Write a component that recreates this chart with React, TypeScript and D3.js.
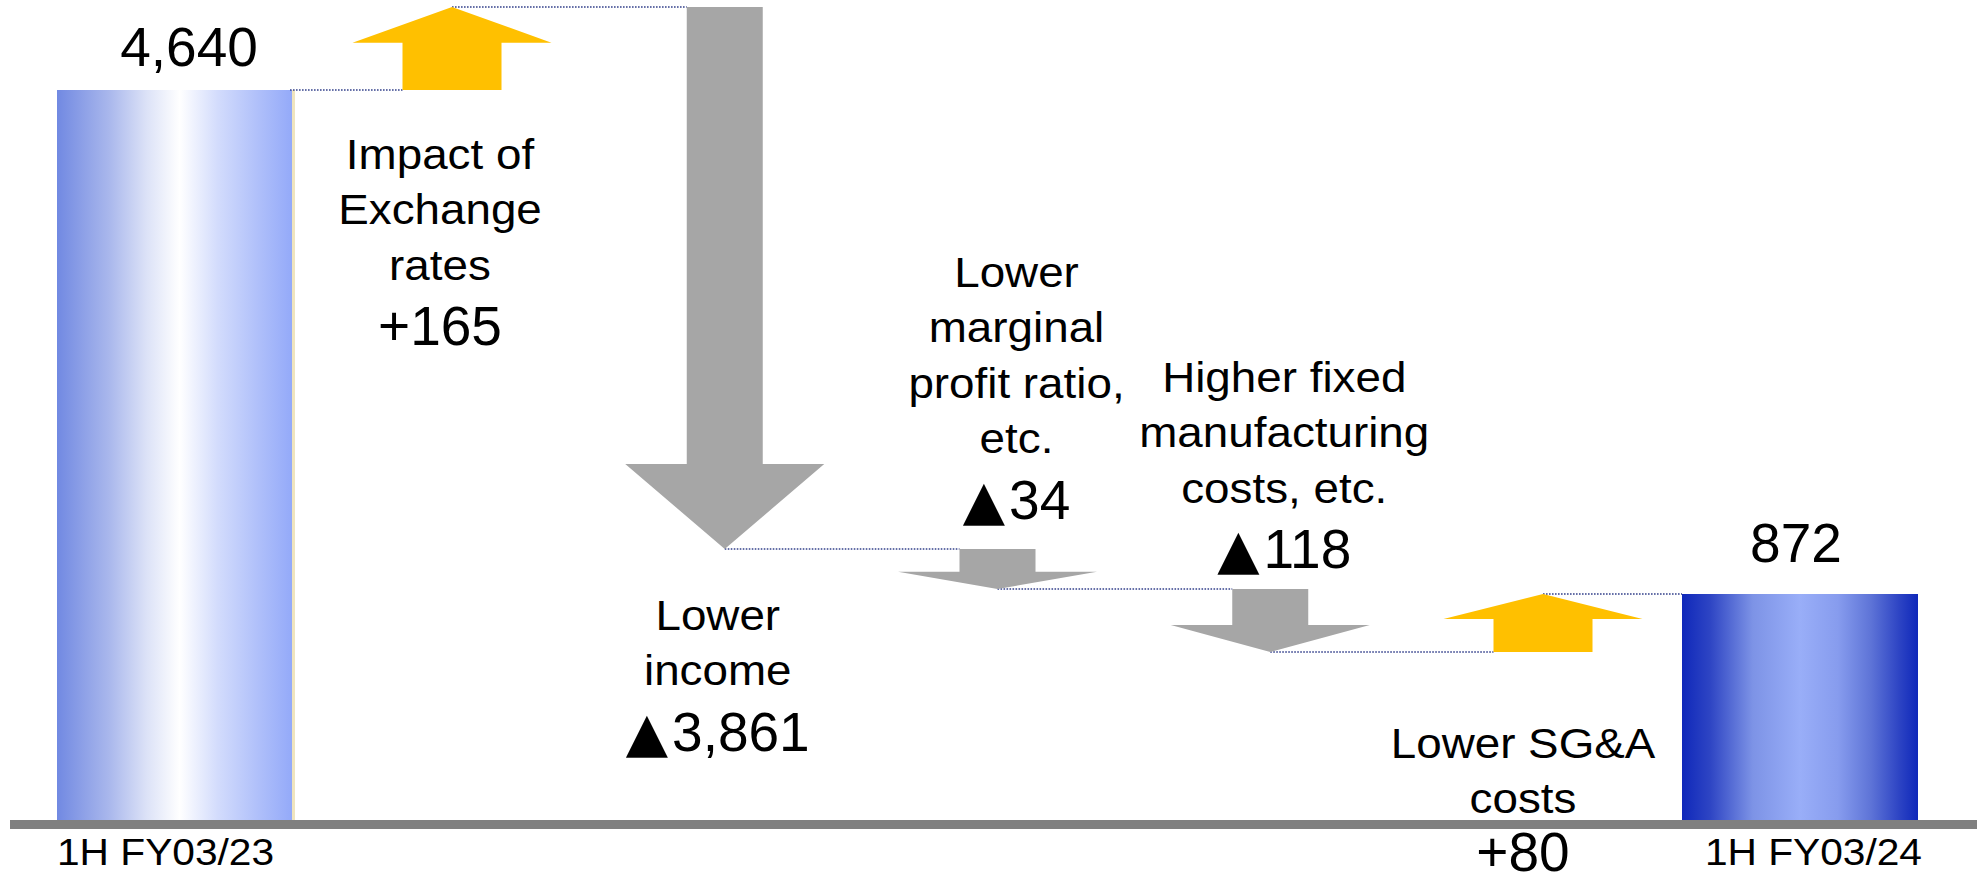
import React from "react";
import * as d3 from "d3";

// ---- Data -------------------------------------------------------------
const startLabel = "1H FY03/23";
const endLabel = "1H FY03/24";
const startValue = 4640;
const endValue = 872;

const stepKeys = ["fx", "income", "margin", "fixed", "sga"];
const stepDeltas = [165, -3861, -34, -118, 80];
const stepLabels = [
  ["Impact of", "Exchange", "rates"],
  ["Lower", "income"],
  ["Lower", "marginal", "profit ratio,", "etc."],
  ["Higher fixed", "manufacturing", "costs, etc."],
  ["Lower SG&A", "costs"],
];

// ---- Layout -----------------------------------------------------------
const W = 1977;
const H = 883;
const BASE_Y = 820;
const BAR_W = 236;
const HEAD_W = 199;
const SHAFT_UP = 99;
const SHAFT_DOWN = 76;
const FONT = "'Liberation Sans', Arial, Helvetica, sans-serif";
const UP_COLOR = "#FFC000";
const DOWN_COLOR = "#A6A6A6";
const LINK_COLOR = "#34418C";

// The vertical axis is schematic: a piecewise-linear scale that opens up
// the narrow band where the small steps happen and squeezes the big drop.
const Y_STOPS = [BASE_Y, 652, 594, 589, 549, 90, 7];
// Caption blocks: first-line baseline and horizontal nudge from the arrow.
const LABEL_TOP = [169, 630, 287, 392, 758];
const LABEL_DX = [-12, -7, 19, 14, -20];
const LINE_H = 55.5;

const fmt = d3.format(",");

function DeltaValue({ v, x, y }: { v: number; x: number; y: number }) {
  const digits = fmt(Math.abs(v));
  return (
    <text x={x} y={y} fontSize={55} textAnchor="middle" fill="#000">
      {v >= 0 ? (
        `+${digits}`
      ) : (
        <>
          <tspan fontFamily="'DejaVu Sans', sans-serif">▲</tspan>
          <tspan dx={4}>{digits}</tspan>
        </>
      )}
    </text>
  );
}

export default function App() {
  const xTotals = d3.scalePoint<string>().domain(["start", "end"]).range([175, 1800]);
  const xSteps = d3.scalePoint<string>().domain(stepKeys).range([452, 1543]);

  // running totals before / after each step
  const levels: number[] = [startValue];
  stepDeltas.forEach((d) => levels.push(levels[levels.length - 1] + d));

  const knots = Array.from(new Set([0, ...levels, endValue])).sort((a, b) => a - b);
  const y = d3.scaleLinear().domain(knots).range(Y_STOPS);

  const line = d3.line<[number, number]>();

  const arrows = stepKeys.map((k, i) => {
    const from = levels[i];
    const to = levels[i + 1];
    const cx = xSteps(k) as number;
    const y0 = y(from);
    const y1 = y(to);
    const up = to > from;
    const dir = up ? -1 : 1;
    const len = Math.abs(y1 - y0);
    const head = Math.min(len * 0.43, 85);
    const sw = up ? SHAFT_UP : SHAFT_DOWN;
    const yb = y1 - dir * head;
    const pts: [number, number][] = [
      [cx - sw / 2, y0],
      [cx - sw / 2, yb],
      [cx - HEAD_W / 2, yb],
      [cx, y1],
      [cx + HEAD_W / 2, yb],
      [cx + sw / 2, yb],
      [cx + sw / 2, y0],
    ];
    return { k, i, cx, y0, y1, up, sw, d: line(pts) + "Z" };
  });

  const startX = xTotals("start") as number;
  const endX = xTotals("end") as number;

  // dotted connectors between consecutive marks
  const links: { x1: number; x2: number; yy: number }[] = [];
  links.push({ x1: startX + BAR_W / 2 - 3, x2: arrows[0].cx - arrows[0].sw / 2, yy: y(startValue) });
  arrows.forEach((a, i) => {
    const next = arrows[i + 1];
    const x2 = next ? next.cx - next.sw / 2 : endX - BAR_W / 2;
    links.push({ x1: a.cx, x2, yy: a.y1 });
  });

  return (
    <svg
      width={W}
      height={H}
      viewBox={`0 0 ${W} ${H}`}
      style={{ position: "fixed", left: 0, top: 0, background: "#fff" }}
      fontFamily={FONT}
    >
      <defs>
        <linearGradient id="barStart" x1="0" x2="1" y1="0" y2="0">
          <stop offset="0" stopColor="#7189E2" />
          <stop offset="0.22" stopColor="#A9B7EC" />
          <stop offset="0.38" stopColor="#DCE2F7" />
          <stop offset="0.52" stopColor="#FFFFFF" />
          <stop offset="0.68" stopColor="#D3DCFC" />
          <stop offset="0.85" stopColor="#B0C0FA" />
          <stop offset="1" stopColor="#93A9F9" />
        </linearGradient>
        <linearGradient id="barEnd" x1="0" x2="1" y1="0" y2="0">
          <stop offset="0" stopColor="#0F28BA" />
          <stop offset="0.12" stopColor="#2E45C4" />
          <stop offset="0.3" stopColor="#7D93E6" />
          <stop offset="0.5" stopColor="#99AEF8" />
          <stop offset="0.66" stopColor="#879CEE" />
          <stop offset="0.8" stopColor="#5E74D7" />
          <stop offset="0.92" stopColor="#2D44C4" />
          <stop offset="1" stopColor="#0F28BA" />
        </linearGradient>
      </defs>

      {/* totals */}
      <rect
        x={startX - BAR_W / 2}
        y={y(startValue)}
        width={BAR_W}
        height={BASE_Y - y(startValue)}
        fill="url(#barStart)"
      />
      <rect
        x={startX + BAR_W / 2 - 1}
        y={y(startValue)}
        width={3}
        height={BASE_Y - y(startValue)}
        fill="#EFE4BE"
      />
      <rect
        x={endX - BAR_W / 2}
        y={y(endValue)}
        width={BAR_W}
        height={BASE_Y - y(endValue)}
        fill="url(#barEnd)"
      />

      {/* connectors */}
      {links.map((l, i) => (
        <line
          key={i}
          x1={l.x1}
          x2={l.x2}
          y1={l.yy}
          y2={l.yy}
          stroke={LINK_COLOR}
          strokeWidth={1.6}
          strokeDasharray="1.6 1.4"
        />
      ))}

      {/* step arrows */}
      {arrows.map((a) => (
        <path key={a.k} d={a.d} fill={a.up ? UP_COLOR : DOWN_COLOR} />
      ))}

      {/* baseline */}
      <rect x={10} y={BASE_Y} width={W - 10} height={9} fill="#808080" />

      {/* total values */}
      <text x={startX + 14} y={y(startValue) - 24} fontSize={55} textAnchor="middle" fill="#000">
        {fmt(startValue)}
      </text>
      <text x={endX - 4} y={y(endValue) - 32} fontSize={55} textAnchor="middle" fill="#000">
        {fmt(endValue)}
      </text>

      {/* category labels */}
      <text
        transform={`translate(${startX - BAR_W / 2},865) scale(1.1,1)`}
        fontSize={37}
        textAnchor="start"
        fill="#000"
      >
        {startLabel}
      </text>
      <text
        transform={`translate(${endX + BAR_W / 2 + 4},865) scale(1.1,1)`}
        fontSize={37}
        textAnchor="end"
        fill="#000"
      >
        {endLabel}
      </text>

      {/* step captions and values */}
      {arrows.map((a, i) => {
        const lines = stepLabels[i];
        const top = LABEL_TOP[i];
        const cx = a.cx + LABEL_DX[i];
        const valueY = Math.min(top + (lines.length - 1) * LINE_H + 65, H - 12);
        return (
          <g key={`lab-${a.k}`}>
            <text
              transform={`translate(${cx},${top}) scale(1.09,1)`}
              fontSize={42}
              textAnchor="middle"
              fill="#000"
            >
              {lines.map((t, j) => (
                <tspan key={j} x={0} dy={j === 0 ? 0 : LINE_H}>
                  {t}
                </tspan>
              ))}
            </text>
            <DeltaValue v={stepDeltas[i]} x={cx} y={valueY} />
          </g>
        );
      })}
    </svg>
  );
}
